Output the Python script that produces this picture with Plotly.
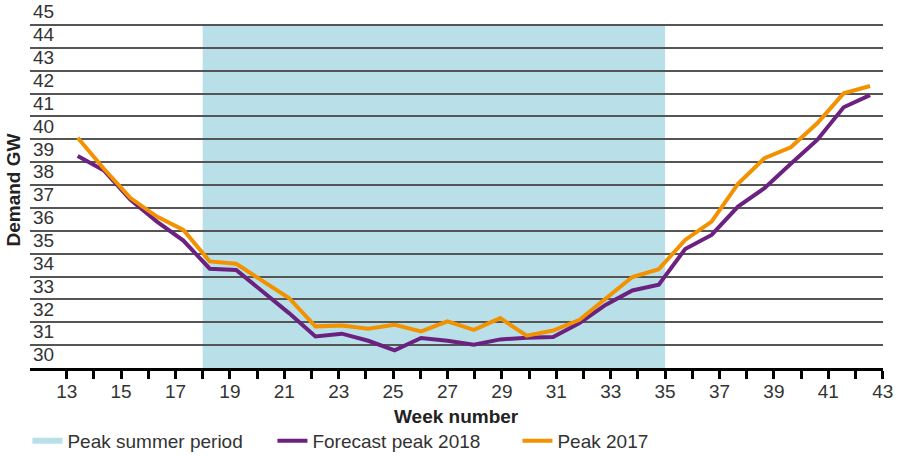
import plotly.graph_objects as go

weeks = list(range(13, 44))
forecast_2018 = [39.27, 38.63, 37.35, 36.4, 35.57, 34.34, 34.29, 33.37, 32.4, 31.38,
                 31.5, 31.19, 30.77, 31.31, 31.19, 31.02, 31.25, 31.32, 31.35, 31.97,
                 32.77, 33.39, 33.64, 35.2, 35.82, 37.06, 37.86, 38.93, 39.97, 41.4, 41.93]
peak_2017 = [40.07, 38.7, 37.43, 36.62, 36.04, 34.66, 34.56, 33.83, 33.06, 31.82,
             31.86, 31.72, 31.89, 31.6, 32.04, 31.67, 32.18, 31.41, 31.64, 32.11,
             33.06, 33.98, 34.32, 35.6, 36.4, 38.05, 39.17, 39.65, 40.7, 42.01, 42.33]
summer_period = [18, 35]
tick_weeks = list(range(13, 44))
tick_labels = [str(w) if w % 2 == 1 else "" for w in tick_weeks]
y_ticks = list(range(30, 46))

FONT = "Liberation Sans, Arial, sans-serif"
TXT = "#333333"
SHADE = "#b9e0e8"

fig = go.Figure()

# legend entry for the shaded period (shape itself drawn below gridlines)
fig.add_trace(go.Scatter(
    x=[None], y=[None], mode="none", fill="toself", fillcolor=SHADE,
    name="Peak summer period", legendrank=1))
fig.add_trace(go.Scatter(
    x=weeks, y=forecast_2018, mode="lines", name="Forecast peak 2018",
    line=dict(color="#6b2180", width=4), xaxis="x2", legendrank=2))
fig.add_trace(go.Scatter(
    x=weeks, y=peak_2017, mode="lines", name="Peak 2017",
    line=dict(color="#f39200", width=4), xaxis="x2", legendrank=3))

fig.add_shape(type="rect", xref="x", yref="y",
              x0=summer_period[0], x1=summer_period[1], y0=30, y1=45,
              fillcolor=SHADE, line=dict(width=0), layer="below")

fig.update_layout(
    width=898, height=456,
    margin=dict(l=30, r=15, t=0, b=88, autoexpand=False),
    paper_bgcolor="white", plot_bgcolor="white",
    font=dict(family=FONT, size=19, color=TXT),
    showlegend=True,
    legend=dict(orientation="h", x=-0.003, xanchor="left", y=-0.198, yanchor="middle",
                font=dict(size=19, color=TXT), entrywidth=200, entrywidthmode="pixels",
                bgcolor="rgba(0,0,0,0)"),
    xaxis=dict(range=[11.651, 43.01], tickvals=tick_weeks, ticktext=tick_labels,
               ticks="outside", ticklen=8, tickwidth=2.5, tickcolor="black",
               ticklabelstandoff=-4,
               showline=True, linecolor="black", linewidth=2.5, automargin=False,
               showgrid=False, zeroline=False, tickfont=dict(size=19, color=TXT)),
    xaxis2=dict(range=[11.194, 43.49], overlaying="x", visible=False),
    yaxis=dict(range=[30, 46.09], tickvals=y_ticks, ticklabelposition="inside top",
               showgrid=True, gridcolor="#555555", gridwidth=1.5, zeroline=False,
               automargin=False,
               showline=False, ticks="", tickfont=dict(size=19, color=TXT)),
    annotations=[
        dict(text="<b>Demand GW</b>", textangle=-90, xref="paper", yref="paper",
             x=-0.0188, y=0.485, xanchor="center", yanchor="middle", showarrow=False,
             font=dict(size=19, color="#222222")),
        dict(text="<b>Week number</b>", xref="paper", yref="paper",
             x=0.5, y=-0.1327, xanchor="center", yanchor="middle", showarrow=False,
             font=dict(size=19, color="#222222")),
    ],
)

fig.write_html("out.html", config={"displayModeBar": False},
               post_script="document.body.style.margin='0px';document.body.style.overflow='hidden';")
